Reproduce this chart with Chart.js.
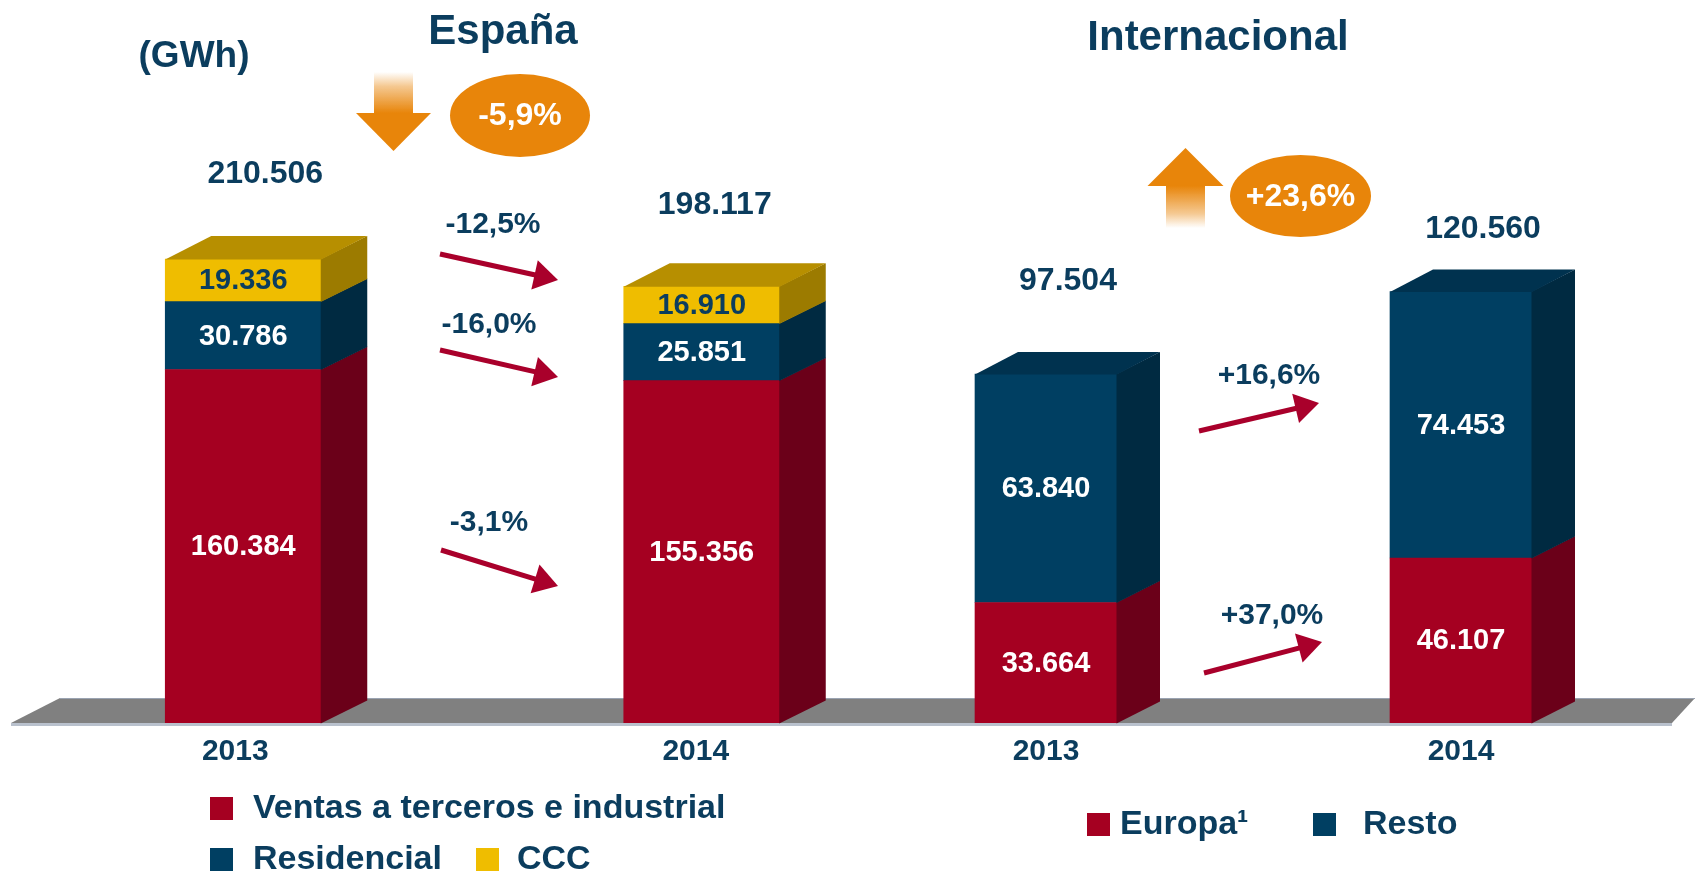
<!DOCTYPE html>
<html>
<head>
<meta charset="utf-8">
<script src="https://cdn.jsdelivr.net/npm/chart.js@4/dist/chart.umd.min.js"></script>
<style>
  html, body { margin: 0; padding: 0; background: #fff; }
  #wrap { position: relative; width: 1695px; height: 874px; overflow: hidden; }
  .box { position: absolute; top: 0; height: 874px; }
  #leftBox { left: 0; width: 940px; }
  #rightBox { left: 830px; width: 865px; }
</style>
</head>
<body>
<div id="wrap">
  <div class="box" id="leftBox"><canvas id="espanaChart" width="940" height="874"></canvas></div>
  <div class="box" id="rightBox"><canvas id="intlChart" width="865" height="874"></canvas></div>
</div>
<script>
// data
const espanaYears = ['2013', '2014'];
const espanaVentas = [160384, 155356];
const espanaResidencial = [30786, 25851];
const espanaCCC = [19336, 16910];
const espanaChanges = ['-12,5%', '-16,0%', '-3,1%'];
const espanaTotalChange = '-5,9%';

const intlYears = ['2013', '2014'];
const intlEuropa = [33664, 46107];
const intlResto = [63840, 74453];
const intlChanges = ['+16,6%', '+37,0%'];
const intlTotalChange = '+23,6%';

const FONT = '"Liberation Sans", Arial, sans-serif';
const NAVY = '#0b3d5e';
const ORANGE = '#e8850a';
const ARROW_RED = '#a9002b';

const fmt = v => String(v).replace(/\B(?=(\d{3})+(?!\d))/g, '.');

// floor + side/top faces of the bars
const bar3dPlugin = {
    id: 'bar3d',
    beforeDatasetsDraw(chart, args, opts) {
        const { ctx, chartArea } = chart;
        const b = chartArea.bottom;
        const f = opts.floor;
        ctx.save();
        ctx.translate(-opts.originX, 0);
        ctx.fillStyle = '#808080';
        ctx.beginPath();
        ctx.moveTo(f.frontLeft, b);
        ctx.lineTo(f.backLeft, b - f.depth);
        ctx.lineTo(f.backRight, b - f.depth);
        ctx.lineTo(f.frontRight, b);
        ctx.closePath();
        ctx.fill();
        ctx.fillStyle = '#9aa3b1';
        ctx.fillRect(f.backLeft, b - f.depth, f.backRight - f.backLeft, 1);
        ctx.fillStyle = '#b9c1cd';
        ctx.fillRect(f.frontLeft, b, f.frontRight - f.frontLeft, 3);
        ctx.restore();
    },
    afterDatasetsDraw(chart, args, opts) {
        const { ctx } = chart;
        const dx = opts.dx, dy = opts.dy;
        const last = chart.data.datasets.length - 1;
        ctx.save();
        chart.data.datasets.forEach((ds, di) => {
            chart.getDatasetMeta(di).data.forEach(bar => {
                const p = bar.getProps(['x', 'y', 'base', 'width'], true);
                const l = p.x - p.width / 2, r = p.x + p.width / 2;
                ctx.fillStyle = ds.sideColor;
                ctx.beginPath();
                ctx.moveTo(r - 0.5, p.y);
                ctx.lineTo(r + dx, p.y - dy);
                ctx.lineTo(r + dx, p.base - dy + 0.5);
                ctx.lineTo(r - 0.5, p.base + 0.5);
                ctx.closePath();
                ctx.fill();
                if (di === last) {
                    ctx.fillStyle = ds.topColor;
                    ctx.beginPath();
                    ctx.moveTo(l, p.y + 0.5);
                    ctx.lineTo(l + dx, p.y - dy);
                    ctx.lineTo(r + dx, p.y - dy);
                    ctx.lineTo(r, p.y + 0.5);
                    ctx.closePath();
                    ctx.fill();
                }
            });
        });
        ctx.restore();
    }
};

// values inside the segments, totals on top, years under the floor
const valueLabelsPlugin = {
    id: 'valueLabels',
    afterDatasetsDraw(chart, args, opts) {
        const { ctx } = chart;
        const last = chart.data.datasets.length - 1;
        ctx.save();
        ctx.textAlign = 'center';
        ctx.textBaseline = 'middle';
        ctx.font = `bold 29px ${FONT}`;
        chart.data.datasets.forEach((ds, di) => {
            chart.getDatasetMeta(di).data.forEach((bar, i) => {
                const p = bar.getProps(['x', 'y', 'base'], true);
                ctx.fillStyle = ds.valueColor;
                ctx.fillText(fmt(ds.data[i]), p.x, (p.y + p.base) / 2 + 1);
            });
        });

        ctx.font = `bold 32px ${FONT}`;
        ctx.fillStyle = NAVY;
        chart.data.labels.forEach((lab, i) => {
            const total = chart.data.datasets.reduce((s, ds) => s + ds.data[i], 0);
            const p = chart.getDatasetMeta(last).data[i].getProps(['x', 'y'], true);
            const sh = opts.totalShift[i];
            ctx.fillText(fmt(total), p.x + sh[0], p.y + sh[1]);
        });

        ctx.font = `bold 30px ${FONT}`;
        const xs = chart.scales.x;
        chart.data.labels.forEach((lab, i) => {
            ctx.fillText(lab, xs.getPixelForValue(i) + opts.yearShift[i], opts.yearY);
        });
        ctx.restore();
    }
};

// titles, big arrow + badge, change arrows, legend
const decorPlugin = {
    id: 'decor',
    afterDraw(chart, args, opts) {
        const { ctx } = chart;
        ctx.save();
        ctx.translate(-opts.originX, 0);
        ctx.textAlign = 'center';
        ctx.textBaseline = 'middle';

        opts.texts.forEach(t => {
            ctx.font = `bold ${t.size}px ${FONT}`;
            ctx.fillStyle = NAVY;
            ctx.fillText(t.text, t.x, t.y);
        });

        // big orange arrow with faded shaft
        const a = opts.bigArrow;
        const grad = ctx.createLinearGradient(0, a.far, 0, a.base);
        grad.addColorStop(0, 'rgba(232,133,10,0)');
        grad.addColorStop(0.35, 'rgba(232,133,10,0.45)');
        grad.addColorStop(1, 'rgba(232,133,10,1)');
        ctx.fillStyle = grad;
        ctx.fillRect(a.cx - a.shaftW / 2, Math.min(a.far, a.base), a.shaftW, Math.abs(a.base - a.far));
        ctx.fillStyle = ORANGE;
        ctx.beginPath();
        ctx.moveTo(a.cx - a.headW / 2, a.base);
        ctx.lineTo(a.cx + a.headW / 2, a.base);
        ctx.lineTo(a.cx, a.tip);
        ctx.closePath();
        ctx.fill();

        // badge
        const e = opts.badge;
        ctx.fillStyle = ORANGE;
        ctx.beginPath();
        ctx.ellipse(e.cx, e.cy, e.rx, e.ry, 0, 0, Math.PI * 2);
        ctx.fill();
        ctx.fillStyle = '#fff';
        ctx.font = `bold 32px ${FONT}`;
        ctx.fillText(e.text, e.cx, e.cy + 1);

        // change arrows
        opts.changes.forEach(c => {
            ctx.font = `bold 30px ${FONT}`;
            ctx.fillStyle = NAVY;
            ctx.fillText(c.text, c.tx, c.ty);
            const [x0, y0] = c.from, [x1, y1] = c.to;
            const len = Math.hypot(x1 - x0, y1 - y0);
            const ux = (x1 - x0) / len, uy = (y1 - y0) / len;
            const hl = 24, hw = 15;
            const bx = x1 - ux * hl, by = y1 - uy * hl;
            ctx.strokeStyle = ARROW_RED;
            ctx.lineWidth = 5;
            ctx.beginPath();
            ctx.moveTo(x0, y0);
            ctx.lineTo(bx + ux * 2, by + uy * 2);
            ctx.stroke();
            ctx.fillStyle = ARROW_RED;
            ctx.beginPath();
            ctx.moveTo(x1, y1);
            ctx.lineTo(bx - uy * hw, by + ux * hw);
            ctx.lineTo(bx + uy * hw, by - ux * hw);
            ctx.closePath();
            ctx.fill();
        });

        // legend
        ctx.textAlign = 'left';
        ctx.font = `bold 34px ${FONT}`;
        opts.legend.forEach(it => {
            const ds = chart.data.datasets[it.ds];
            ctx.fillStyle = ds.backgroundColor;
            ctx.fillRect(it.x, it.y, 23, 23);
            ctx.fillStyle = NAVY;
            ctx.fillText(ds.label, it.tx, it.y + 12);
        });
        ctx.restore();
    }
};

const baseOptions = (yMax, padLeft, padRight) => ({
    responsive: false,
    animation: false,
    events: [],
    layout: { padding: { left: padLeft, right: padRight, top: 0, bottom: 151 } },
    scales: {
        x: { stacked: true, display: false },
        y: { stacked: true, display: false, min: 0, max: yMax }
    },
    plugins: {
        legend: { display: false },
        tooltip: { enabled: false }
    }
});

const espanaOptions = baseOptions(328000, 14, 9);
espanaOptions.plugins.bar3d = {
    originX: 0, dx: 46, dy: 23,
    floor: { frontLeft: 11, backLeft: 60, backRight: 852, frontRight: 852, depth: 25 }
};
espanaOptions.plugins.valueLabels = {
    totalShift: [[22, -85], [13, -81]],
    yearShift: [-8, -6],
    yearY: 752
};
espanaOptions.plugins.decor = {
    originX: 0,
    texts: [
        { text: '(GWh)', x: 194, y: 57, size: 37 },
        { text: 'España', x: 503, y: 32, size: 42 }
    ],
    bigArrow: { cx: 393.5, far: 72, base: 113, tip: 151, shaftW: 39, headW: 75 },
    badge: { cx: 520, cy: 115.5, rx: 70, ry: 41.5, text: espanaTotalChange },
    changes: [
        { text: espanaChanges[0], tx: 493, ty: 225, from: [440, 254], to: [558, 280] },
        { text: espanaChanges[1], tx: 489, ty: 325, from: [440, 350], to: [558, 377] },
        { text: espanaChanges[2], tx: 489, ty: 523, from: [441, 550], to: [558, 586] }
    ],
    legend: [
        { ds: 0, x: 210, y: 797, tx: 253 },
        { ds: 1, x: 210, y: 848, tx: 253 },
        { ds: 2, x: 476, y: 848, tx: 517 }
    ]
};

new Chart(document.getElementById('espanaChart'), {
    type: 'bar',
    data: {
        labels: espanaYears,
        datasets: [
            { label: 'Ventas a terceros e industrial', data: espanaVentas, backgroundColor: '#a50021',
              sideColor: '#6b0019', topColor: '#7e001d', valueColor: '#ffffff', barThickness: 156 },
            { label: 'Residencial', data: espanaResidencial, backgroundColor: '#003f62',
              sideColor: '#002a41', topColor: '#00324f', valueColor: '#ffffff', barThickness: 156 },
            { label: 'CCC', data: espanaCCC, backgroundColor: '#efbd00',
              sideColor: '#9c7b00', topColor: '#b78f00', valueColor: NAVY, barThickness: 156 }
        ]
    },
    options: espanaOptions,
    plugins: [bar3dPlugin, valueLabelsPlugin, decorPlugin]
});

const intlOptions = baseOptions(202000, 8.5, 26.5);
intlOptions.plugins.bar3d = {
    originX: 830, dx: 43, dy: 22,
    floor: { frontLeft: 848, backLeft: 848, backRight: 1695, frontRight: 1672, depth: 25 }
};
intlOptions.plugins.valueLabels = {
    totalShift: [[22, -93], [22, -62]],
    yearShift: [0, 0],
    yearY: 752
};
intlOptions.plugins.decor = {
    originX: 830,
    texts: [
        { text: 'Internacional', x: 1218, y: 38, size: 42 }
    ],
    bigArrow: { cx: 1185.5, far: 228, base: 186, tip: 148, shaftW: 39, headW: 76 },
    badge: { cx: 1300.5, cy: 196, rx: 70.5, ry: 41, text: intlTotalChange },
    changes: [
        { text: intlChanges[0], tx: 1269, ty: 376, from: [1199, 431], to: [1319, 403] },
        { text: intlChanges[1], tx: 1272, ty: 616, from: [1204, 673], to: [1322, 642] }
    ],
    legend: [
        { ds: 0, x: 1087, y: 813, tx: 1120 },
        { ds: 1, x: 1313, y: 813, tx: 1363 }
    ]
};

new Chart(document.getElementById('intlChart'), {
    type: 'bar',
    data: {
        labels: intlYears,
        datasets: [
            { label: 'Europa¹', data: intlEuropa, backgroundColor: '#a50021',
              sideColor: '#6b0019', topColor: '#7e001d', valueColor: '#ffffff', barThickness: 142 },
            { label: 'Resto', data: intlResto, backgroundColor: '#003f62',
              sideColor: '#002a41', topColor: '#00324f', valueColor: '#ffffff', barThickness: 142 }
        ]
    },
    options: intlOptions,
    plugins: [bar3dPlugin, valueLabelsPlugin, decorPlugin]
});
</script>
</body>
</html>
